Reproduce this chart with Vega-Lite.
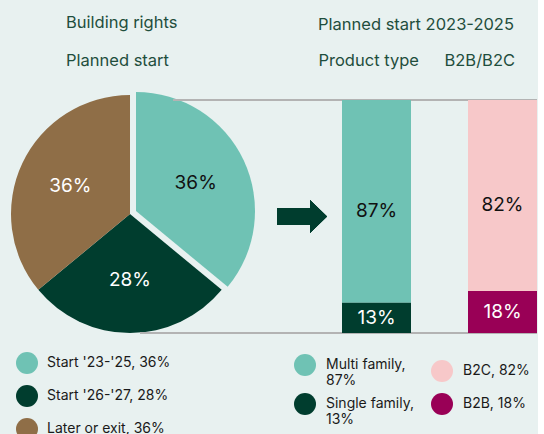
{
  "$schema": "https://vega.github.io/schema/vega-lite/v6.json",
  "background": "#e8f1f0",
  "padding": {"left": 0, "top": 15, "right": 0, "bottom": 0},
  "bounds": "flush",
  "spacing": 82,
  "datasets": {
    "pie": [
      {"category": "Start '23-'25, 36%", "stage": 1, "share": 0.36},
      {"category": "Start '26-'27, 28%", "stage": 2, "share": 0.28},
      {"category": "Later or exit, 36%", "stage": 3, "share": 0.36}
    ],
    "bars": [
      {"group": "Product type", "category": "Multi family, 87%", "share": 0.87},
      {"group": "Product type", "category": "Single family, 13%", "share": 0.13},
      {"group": "B2B/B2C", "category": "B2C, 82%", "share": 0.82},
      {"group": "B2B/B2C", "category": "B2B, 18%", "share": 0.18}
    ]
  },
  "config": {
    "font": "Inter",
    "view": {"stroke": null},
    "title": {"fontSize": 16.5, "fontWeight": "normal", "color": "#1f4e3d", "subtitleFontSize": 16.5, "subtitleColor": "#1f4e3d", "subtitleFont": "Inter", "anchor": "start", "frame": "group"}
  },
  "resolve": {"scale": {"color": "independent"}, "legend": {"color": "independent"}},
  "hconcat": [
    {
      "width": 260,
      "height": 233,
      "title": {"text": "Building rights", "subtitle": "Planned start", "dx": 66, "offset": 23, "subtitlePadding": 21},
      "data": {"name": "pie"},
      "encoding": {
        "theta": {"field": "share", "type": "quantitative", "stack": true},
        "order": {"field": "stage", "type": "quantitative", "sort": "ascending"},
        "color": {
          "field": "category",
          "type": "nominal",
          "scale": {"domain": ["Start '23-'25, 36%", "Start '26-'27, 28%", "Later or exit, 36%"], "range": ["#6fc2b4", "#003d2e", "#8f6e47"]},
          "legend": {"orient": "none", "legendX": 16, "legendY": 252, "direction": "vertical", "title": null, "symbolType": "circle", "symbolSize": 484, "symbolStrokeWidth": 0, "symbolOpacity": 1, "labelFontSize": 14, "labelColor": "#1a1a1a", "labelOffset": 9, "rowPadding": 11, "labelLimit": 300, "padding": 0}
        }
      },
      "layer": [
        {"mark": {"type": "arc", "radius": 119, "yOffset": -2.5}, "encoding": {"opacity": {"condition": {"test": "datum.stage === 1", "value": 0}, "value": 1}}},
        {"mark": {"type": "arc", "radius": 119, "xOffset": 6, "yOffset": -5.5}, "encoding": {"opacity": {"condition": {"test": "datum.stage === 1", "value": 1}, "value": 0}}},
        {"mark": {"type": "text", "radius": 66, "yOffset": -2.5, "fontSize": 19}, "encoding": {"text": {"field": "share", "type": "quantitative", "format": ".0%"}, "color": {"value": "#ffffff"}, "opacity": {"condition": {"test": "datum.stage === 1", "value": 0}, "value": 1}}},
        {"mark": {"type": "text", "radius": 66, "xOffset": 6, "yOffset": -5.5, "fontSize": 19}, "encoding": {"text": {"field": "share", "type": "quantitative", "format": ".0%"}, "color": {"value": "#111111"}, "opacity": {"condition": {"test": "datum.stage === 1", "value": 1}, "value": 0}}}
      ]
    },
    {
      "width": 195,
      "height": 233,
      "title": {"text": "Planned start 2023-2025", "dx": -24, "offset": 19},
      "data": {"name": "bars"},
      "encoding": {
        "x": {"field": "group", "type": "nominal", "sort": ["Product type", "B2B/B2C"], "title": null,
          "scale": {"domain": ["Product type", "B2B/B2C"], "paddingInner": 0.4524, "paddingOuter": 0},
          "axis": {"orient": "top", "domain": false, "ticks": false, "grid": false, "labelAngle": 0, "labelAlign": "left", "labelOffset": -58, "labelPadding": 32, "labelFontSize": 16.5, "labelColor": "#1f4e3d", "labelFont": "Inter"}},
        "y": {"field": "share", "type": "quantitative", "stack": "zero", "scale": {"domain": [0, 1], "nice": false}, "axis": null}
      },
      "layer": [
        {"mark": {"type": "rule", "color": "#b3b3b3", "strokeWidth": 1.5, "xOffset": -169, "x2Offset": 34.5},
         "encoding": {"x": {"datum": "Product type", "type": "nominal", "bandPosition": 0}, "x2": {"datum": "B2B/B2C"}, "y": {"datum": 1, "type": "quantitative"}}},
        {"mark": {"type": "rule", "color": "#b3b3b3", "strokeWidth": 1.5, "xOffset": -202, "x2Offset": 34.5},
         "encoding": {"x": {"datum": "Product type", "type": "nominal", "bandPosition": 0}, "x2": {"datum": "B2B/B2C"}, "y": {"datum": 0, "type": "quantitative"}}},
        {"mark": {"type": "point", "shape": "M-1,-0.34L0.32,-0.34L0.32,-0.66L1,0L0.32,0.66L0.32,0.34L-1,0.34Z", "size": 2500, "filled": true, "color": "#003d2e", "opacity": 1, "strokeWidth": 0, "xOffset": -40},
         "encoding": {"x": {"datum": "Product type", "type": "nominal", "bandPosition": 0}, "y": {"datum": 0.5, "type": "quantitative"}}},
        {"mark": {"type": "bar"},
         "encoding": {
           "order": {"field": "share", "type": "quantitative", "sort": "ascending"},
           "color": {"field": "category", "type": "nominal",
             "scale": {"domain": ["Multi family, 87%", "Single family, 13%", "B2C, 82%", "B2B, 18%"], "range": ["#6fc2b4", "#003d2e", "#f7c8c9", "#990056"]},
             "legend": {"orient": "none", "legendX": -48, "legendY": 254, "columns": 2, "title": null, "symbolType": "circle", "symbolSize": 484, "symbolStrokeWidth": 0, "labelFontSize": 14, "labelColor": "#1a1a1a", "labelOffset": 10, "columnPadding": 17, "rowPadding": 5, "labelLimit": 300, "padding": 0,
               "labelExpr": "indexof(datum.label, 'family') >= 0 ? [split(datum.label, ' ')[0] + ' ' + split(datum.label, ' ')[1], split(datum.label, ' ')[2]] : datum.label"}}
         }},
        {"mark": {"type": "text", "fontSize": 19},
         "encoding": {
           "y": {"field": "share", "type": "quantitative", "stack": "zero", "bandPosition": 0.45},
           "detail": {"field": "category", "type": "nominal"},
           "order": {"field": "share", "type": "quantitative", "sort": "ascending"},
           "text": {"field": "share", "type": "quantitative", "format": ".0%"},
           "color": {"value": "#111111"},
           "opacity": {"condition": {"test": "datum.share > 0.5", "value": 1}, "value": 0}
         }},
        {"mark": {"type": "text", "fontSize": 19},
         "encoding": {
           "y": {"field": "share", "type": "quantitative", "stack": "zero", "bandPosition": 0.5},
           "detail": {"field": "category", "type": "nominal"},
           "order": {"field": "share", "type": "quantitative", "sort": "ascending"},
           "text": {"field": "share", "type": "quantitative", "format": ".0%"},
           "color": {"value": "#ffffff"},
           "opacity": {"condition": {"test": "datum.share > 0.5", "value": 0}, "value": 1}
         }}
      ]
    }
  ]
}
